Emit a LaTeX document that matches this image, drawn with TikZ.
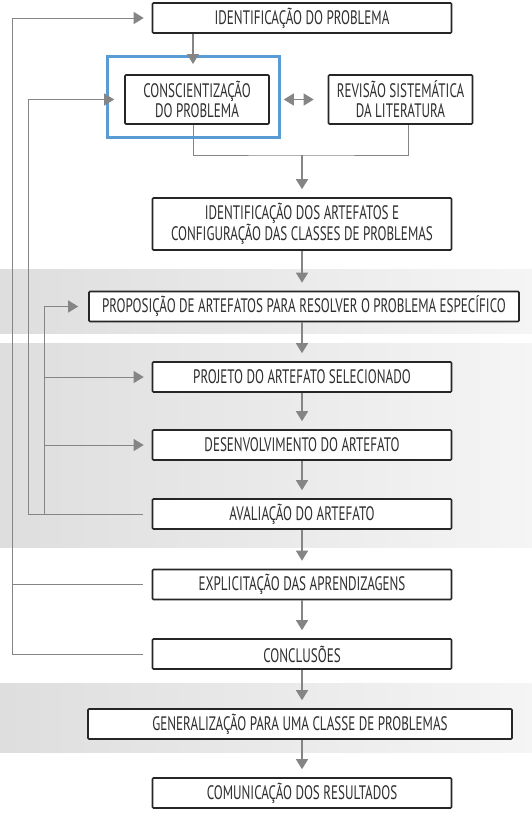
\documentclass[tikz,border=0pt]{standalone}
\usepackage{fontspec}
\setmainfont{PT Sans}[FakeStretch=0.67]
\usetikzlibrary{arrows.meta}
\definecolor{linegray}{HTML}{858585}
\definecolor{hlblue}{HTML}{5B9BD5}
\definecolor{textgray}{HTML}{2E2E2E}
\begin{document}
\begin{tikzpicture}
      [x=1pt, y=-1pt,
      stepbox/.style={draw=black!85, line width=1.6pt, rounded corners=1pt, fill=white, text=textgray,
        font=\fontsize{19.5}{20}\selectfont, inner sep=2pt, minimum width=299pt, minimum height=30pt, align=center},
      widebox/.style={stepbox, minimum width=430pt},
      twoline/.style={stepbox, minimum width=144pt, minimum height=49pt},
      flow/.style={draw=linegray, line width=1.3pt, -{Triangle[length=10pt,width=12pt]}, shorten >=8pt},
      link/.style={draw=linegray, line width=1pt},
      band/.style={left color=black!13, right color=black!4},
      ]
      \useasboundingbox (0,0) rectangle (532,828);
      % faixas de fundo
      \shade[band] (0,269) rectangle (532,333);
      \shade[band] (0,343) rectangle (532,547);
      \shade[band] (0,683) rectangle (532,752);

      \node[stepbox] (ident) at (302,18) {IDENTIFICAÇÃO DO PROBLEMA};
      \node[twoline] (cons) at (197,99.5) {CONSCIENTIZAÇÃO\\DO PROBLEMA};
      \node[twoline] (rev) at (400.5,99.5) {REVISÃO SISTEMÁTICA\\DA LITERATURA};
      \node[stepbox, minimum height=52pt] (artef) at (302,224)
        {IDENTIFICAÇÃO DOS ARTEFATOS E\\CONFIGURAÇÃO DAS CLASSES DE PROBLEMAS};
      \node[widebox] (prop) at (304,306.5) {PROPOSIÇÃO DE ARTEFATOS PARA RESOLVER O PROBLEMA ESPECÍFICO};
      \node[stepbox] (proj) at (302,377) {PROJETO DO ARTEFATO SELECIONADO};
      \node[stepbox] (desen) at (302,445) {DESENVOLVIMENTO DO ARTEFATO};
      \node[stepbox] (aval) at (302,514) {AVALIAÇÃO DO ARTEFATO};
      \node[stepbox] (expl) at (302,584.5) {EXPLICITAÇÃO DAS APRENDIZAGENS};
      \node[stepbox] (conc) at (302,654) {CONCLUSÕES};
      \node[widebox, minimum width=424pt] (gen) at (300,724) {GENERALIZAÇÃO PARA UMA CLASSE DE PROBLEMAS};
      \node[stepbox] (comun) at (302,793) {COMUNICAÇÃO DOS RESULTADOS};

      % destaque
      \draw[hlblue, line width=3pt] (107,56) rectangle (279,137);

      \coordinate (merge) at (302,155);
      \coordinate (outer) at (12,654);
      \coordinate (mid) at (28,514);
      \coordinate (inner) at (44,514);

      % fluxo principal
      \draw[flow, shorten >=11pt] (ident.south -| 193,0) -- (193,75);
      \draw[link] (cons.south -| 193,0) |- (merge) -| (rev.south -| 408,0);
      \draw[flow] (merge) -- (artef.north);
      \draw[flow, {Triangle[length=10pt,width=12pt]}-{Triangle[length=10pt,width=12pt]}, shorten <=14pt, shorten >=14pt]
        (cons.east) -- (rev.west);
      \draw[flow] (artef.south) -- (artef.south |- prop.north);
      \draw[flow] (artef.south |- prop.south) -- (proj.north);
      \draw[flow] (proj) -- (desen);
      \draw[flow] (desen) -- (aval);
      \draw[flow] (aval) -- (expl);
      \draw[flow] (expl) -- (conc);
      \draw[flow] (conc.south) -- (conc.south |- gen.north);
      \draw[flow] (conc.south |- gen.south) -- (comun.north);

      % retornos
      \draw[flow, link, -{Triangle[length=10pt,width=12pt]}, shorten <=9pt] (conc.west) -- (outer) |- (ident.west);
      \draw[link, shorten <=9pt] (expl.west) -- (expl.west -| outer);
      \draw[flow, link, -{Triangle[length=10pt,width=12pt]}, shorten <=9pt, shorten >=10pt] (aval.west) -- (mid) |- (cons.west);
      \draw[flow, link, -{Triangle[length=10pt,width=12pt]}, shorten >=10pt] (inner) |- (prop.west);
      \draw[flow, link, -{Triangle[length=10pt,width=12pt]}] (proj.west -| inner) -- (proj.west);
      \draw[flow, link, -{Triangle[length=10pt,width=12pt]}] (desen.west -| inner) -- (desen.west);
\end{tikzpicture}
\end{document}
